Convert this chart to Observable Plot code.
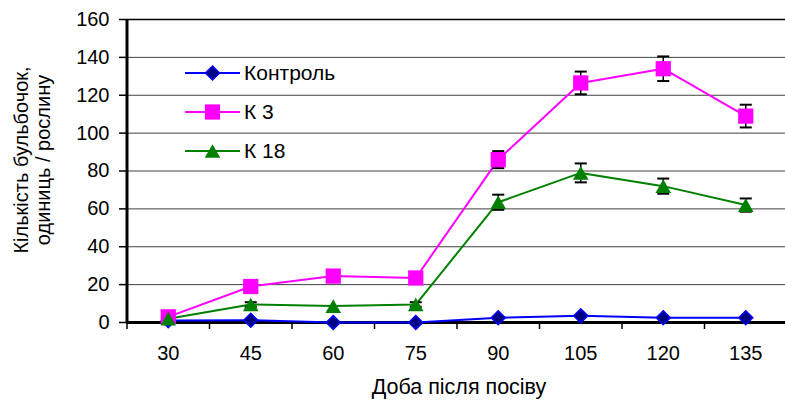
<!DOCTYPE html>
<html><head><meta charset="utf-8">
<script src="https://cdn.jsdelivr.net/npm/d3@7"></script>
<script src="https://cdn.jsdelivr.net/npm/@observablehq/plot@0.6"></script>
<style>
body{margin:0;background:#fff}
#chart{position:relative;width:785px;height:400px;overflow:hidden}
#chart svg{font-family:"Liberation Sans",Arial,sans-serif}
</style>
</head><body><div id="chart"></div>
<script>
const days = [30,45,60,75,90,105,120,135];
const xTicks = [30,45,60,75,90,105,120,135];
const xBounds = [22.5,37.5,52.5,67.5,82.5,97.5,112.5,127.5,142.5];
const yTicks = [0,20,40,60,80,100,120,140,160];
const control = [1,1.2,0,0,2.5,3.5,2.5,2.5];
const k3 = [3,19,24.5,23.5,86,126.5,134,109];
const k3Err = [0,0,0,0,4.5,6,6.5,6];
const k18 = [2,9.5,8.7,9.5,63.5,79,72,62];
const k18Err = [0,1.2,0,1.2,4,5,4,3.5];
const seriesNames = ["Контроль","К 3","К 18"];
const colors = ["#0000FF","#FF00FF","#008000"];
const fills = ["#000080","#FF00FF","#008000"];
const xTitle = "Доба після посіву";
const yTitle = ["Кількість бульбочок,","одиниць / рослину"];

const values = [control, k3, k18];
const errs = [control.map(() => 0), k3Err, k18Err];
const rows = [];
seriesNames.forEach((s, i) => days.forEach((d, j) => rows.push({series: s, day: d, value: values[i][j], err: errs[i][j]})));
const errRows = rows.filter(r => r.err > 0);

const triSym = {draw(ctx, size){const s=Math.sqrt(size);const w=s*0.5,h=s*0.44;ctx.moveTo(0,-h);ctx.lineTo(w,h);ctx.lineTo(-w,h);ctx.closePath();}};
const capSym = {draw(ctx, size){const w=Math.sqrt(size)/2;ctx.moveTo(-w,0);ctx.lineTo(w,0);}};
const symFor = {"Контроль":"diamond2","К 3":"square","К 18":triSym};
const rFor = {"Контроль":6.3,"К 3":8.6,"К 18":8.8};

const FS = 20;
const plot = Plot.plot({
  width: 785, height: 400,
  marginLeft: 126, marginRight: 0, marginTop: 19, marginBottom: 78,
  style: {fontFamily: '"Liberation Sans", Arial, sans-serif', fontSize: FS + "px", background: "#fff", color: "#000"},
  x: {type: "linear", domain: [22.5, 142.5], range: [126.5, 786.5]},
  y: {domain: [0, 160], range: [322, 19]},
  color: {domain: seriesNames, range: colors},
  marks: [
    Plot.gridY({ticks: yTicks.slice(1, -1), stroke: "#000", strokeOpacity: 0.75, strokeWidth: 1}),
    Plot.ruleY([160], {stroke: "#000", strokeWidth: 1.5}),
    Plot.axisY({ticks: yTicks, tickSize: 7, tickPadding: 10, fontSize: FS, strokeWidth: 1.5, tickFormat: d => d, label: null}),
    Plot.axisX({ticks: xTicks, tickSize: 0, tickPadding: 23, fontSize: FS, tickFormat: d => d, label: null}),
    Plot.axisX({ticks: xBounds, tickSize: 7, strokeWidth: 1.5, tickFormat: () => "", label: null}),
    Plot.ruleX([22.5], {stroke: "#000", strokeWidth: 3}),
    Plot.ruleY([0], {stroke: "#000", strokeWidth: 3}),
    Plot.line(rows, {x: "day", y: "value", z: "series", stroke: "series", strokeWidth: 2}),
    Plot.ruleX(errRows, {x: "day", y1: d => d.value - d.err, y2: d => d.value + d.err, stroke: "#000", strokeWidth: 1.5}),
    Plot.dot(errRows, {x: "day", y: d => d.value + d.err, symbol: () => capSym, r: 6.8, stroke: "#000", strokeWidth: 2, fill: "none"}),
    Plot.dot(errRows, {x: "day", y: d => d.value - d.err, symbol: () => capSym, r: 6.8, stroke: "#000", strokeWidth: 2, fill: "none"}),
    ...seriesNames.map((s, i) => Plot.dot(rows.filter(r => r.series === s), {
      x: "day", y: "value", symbol: () => symFor[s], r: rFor[s],
      fill: fills[i], stroke: colors[i], strokeWidth: i === 0 ? 1.5 : 0
    }))
  ]
});
document.getElementById("chart").appendChild(plot);

const svg = d3.select(plot);
const font = '"Liberation Sans", Arial, sans-serif';
svg.append("text").attr("x", 459).attr("y", 394).attr("text-anchor", "middle")
  .attr("font-size", 21.5).attr("font-family", font).attr("fill", "#000").text(xTitle);
const yt = [{t: yTitle[0], x: 28, y: 160}, {t: yTitle[1], x: 50, y: 160}];
yt.forEach(o => svg.append("text").attr("transform", `translate(${o.x},${o.y}) rotate(-90)`)
  .attr("text-anchor", "middle").attr("font-size", 20).attr("font-family", font).attr("fill", "#000").text(o.t));

// legend
const lg = svg.append("g").attr("text-anchor", "start");
const legendY = [73, 112, 151];
const legSyms = [d3.symbol(d3.symbolDiamond2, Math.PI*6.3*6.3), d3.symbol(d3.symbolSquare, Math.PI*8.6*8.6), d3.symbol(triSym, Math.PI*8.8*8.8)];
seriesNames.forEach((s, i) => {
  const y = legendY[i];
  lg.append("line").attr("x1", 185).attr("x2", 240).attr("y1", y).attr("y2", y).attr("stroke", colors[i]).attr("stroke-width", 2);
  lg.append("path").attr("d", legSyms[i]()).attr("transform", `translate(212.5,${y})`)
    .attr("fill", fills[i]).attr("stroke", colors[i]).attr("stroke-width", i === 0 ? 1.5 : 0);
  lg.append("text").attr("x", 244).attr("y", y).attr("dy", "0.35em").attr("text-anchor", "start")
    .attr("font-size", 21).attr("font-family", font).attr("fill", "#000").text(s);
});
</script>
</body></html>
